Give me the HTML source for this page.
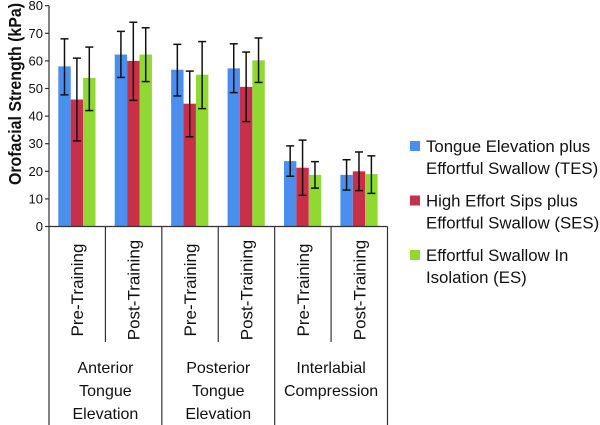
<!DOCTYPE html>
<html><head><meta charset="utf-8"><style>
body{margin:0;background:#fff;}
svg{display:block;font-family:"Liberation Sans",sans-serif;}
</style></head><body>
<svg id="chart" width="600" height="425" viewBox="0 0 600 425"></svg>
<script>
const categories=["Pre-Training","Post-Training","Pre-Training","Post-Training","Pre-Training","Post-Training"];
const groups=[["Anterior","Tongue","Elevation"],["Posterior","Tongue","Elevation"],["Interlabial","Compression"]];
const seriesNames=["TES","SES","ES"];
const legendLabels=[["Tongue Elevation plus","Effortful Swallow (TES)"],["High Effort Sips plus","Effortful Swallow (SES)"],["Effortful Swallow In","Isolation (ES)"]];
const colors=["#4a8ff0","#c8304a","#8fd932"];
const tesValues=[58,62.3,56.8,57.3,23.7,18.7];
const tesLow=[47.7,54,47.3,48.5,18.2,13.2];
const tesHigh=[68,70.7,66,66.2,29.2,24.2];
const sesValues=[46,60,44.5,50.6,21.3,20];
const sesLow=[31,45.7,32.5,38,11.3,13];
const sesHigh=[61,74,56.3,63.2,31.3,27];
const esValues=[53.8,62.3,55,60.2,18.7,19];
const esLow=[42,52.5,42.7,52.2,13.9,12];
const esHigh=[65,72,67,68.3,23.5,25.6];
const yTicks=[0,10,20,30,40,50,60,70,80];

const svg=document.getElementById('chart');
const NS="http://www.w3.org/2000/svg";
function mk(tag,attrs,parent){const e=document.createElementNS(NS,tag);for(const k in attrs)e.setAttribute(k,attrs[k]);(parent||svg).appendChild(e);return e;}
const x0=49,x1=387.5,yBase=226.5,yTop=5.7;
const catW=(x1-x0)/categories.length;
function y(v){return yBase-(v/80)*(yBase-yTop);}
function catX(i){return x0+i*catW;}
const vals=[tesValues,sesValues,esValues],lows=[tesLow,sesLow,esLow],highs=[tesHigh,sesHigh,esHigh];
const barW=12.4,off=9.3;
for(let s=0;s<3;s++){for(let i=0;i<categories.length;i++){
  const bx=catX(i)+off+s*barW;
  const r=mk('rect',{x:bx,y:y(vals[s][i]),width:barW,height:yBase-y(vals[s][i]),fill:colors[s]});
  
  
}}
for(let s=0;s<3;s++){for(let i=0;i<categories.length;i++){
  const cx=catX(i)+off+s*barW+barW/2;
  const g=mk('g',{stroke:'#111','stroke-width':1.5});
  
  
  mk('line',{x1:cx,x2:cx,y1:y(lows[s][i]),y2:y(highs[s][i])},g);
  mk('line',{x1:cx-4,x2:cx+4,y1:y(lows[s][i]),y2:y(lows[s][i])},g);
  mk('line',{x1:cx-4,x2:cx+4,y1:y(highs[s][i]),y2:y(highs[s][i])},g);
}}
const ya=mk('g',{});
mk('line',{x1:x0,x2:x0,y1:yTop,y2:yBase,stroke:'#333','stroke-width':1.2},ya);
yTicks.forEach(t=>{
  mk('line',{x1:x0-4,x2:x0,y1:y(t),y2:y(t),stroke:'#333','stroke-width':1.2},ya);
  const tx=mk('text',{x:x0-6,y:y(t)+4.5,'text-anchor':'end','font-size':13,fill:'#111'},ya);tx.textContent=t;
  
});
const yt=mk('text',{x:0,y:0,transform:'translate(21,94) rotate(-90)','text-anchor':'middle','font-size':17.5,'font-weight':'bold',fill:'#111',textLength:182,lengthAdjust:'spacingAndGlyphs'});
yt.textContent='Orofacial Strength (kPa)';


const xa=mk('g',{stroke:'#333','stroke-width':1.2});
mk('line',{x1:x0,x2:x1,y1:yBase,y2:yBase},xa);
for(let i=0;i<=categories.length;i++){
  mk('line',{x1:catX(i),x2:catX(i),y1:yBase,y2:(i%2===0)?425:342},xa);
}
categories.forEach((c,i)=>{
  const cx=catX(i)+catW/2;
  const t=mk('text',{x:0,y:0,transform:`translate(${cx+6},${290}) rotate(-90)`,'text-anchor':'middle','font-size':17,fill:'#111'});
  t.textContent=c;
  
  
});
groups.forEach((lines,g)=>{
  const cx=catX(2*g)+catW;
  lines.forEach((l,k)=>{
    const t=mk('text',{x:cx,y:373+k*23,'text-anchor':'middle','font-size':16,fill:'#111'});
    t.textContent=l;
    
    
  });
});
legendLabels.forEach((lines,s)=>{
  const g=mk('g',{});
  
  
  const cy=146+s*54.5;
  mk('rect',{x:410,y:cy-5,width:10,height:10,fill:colors[s]},g);
  lines.forEach((l,k)=>{
    const t=mk('text',{x:426,y:cy+6+k*22,'font-size':16.8,fill:'#111'},g);
    t.textContent=l;
  });
});
</script>
</body></html>
